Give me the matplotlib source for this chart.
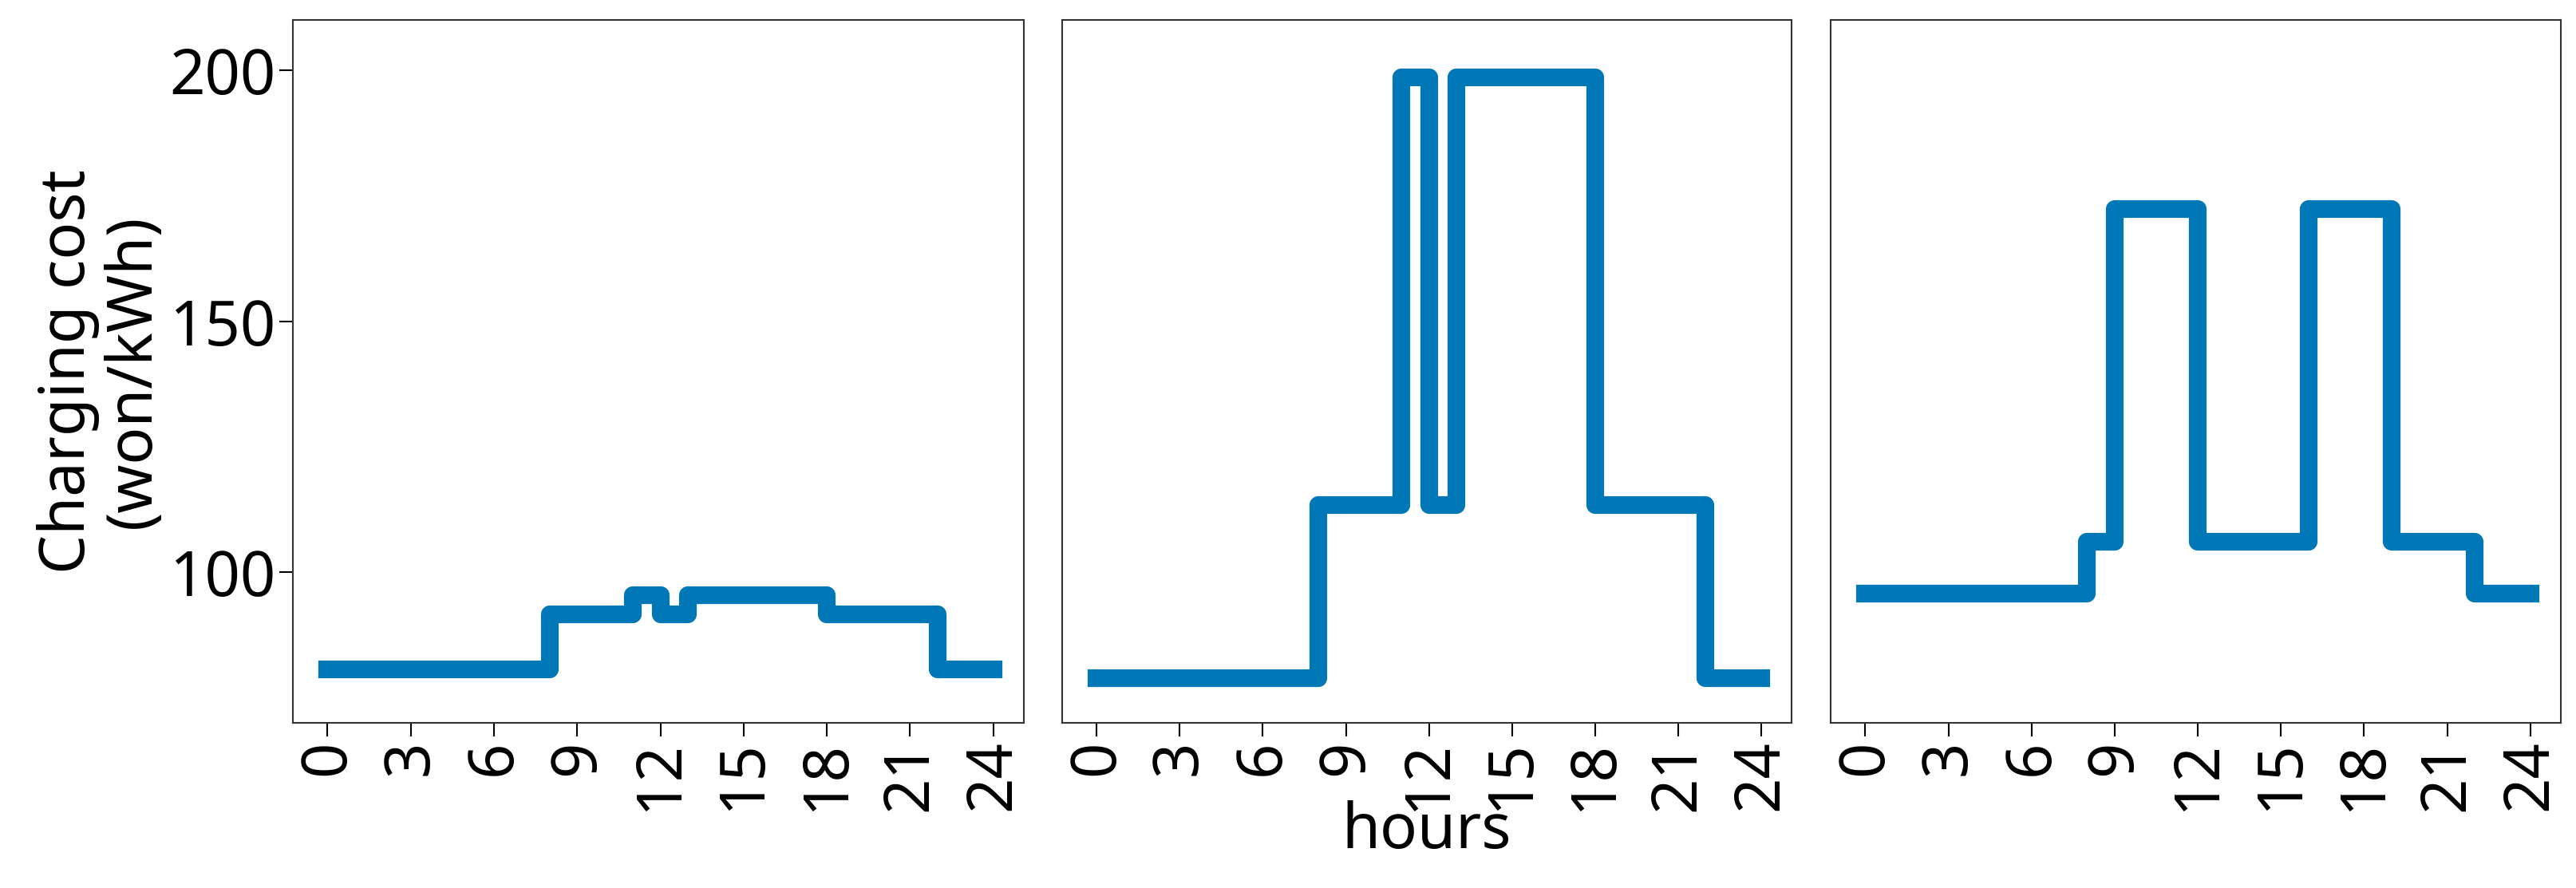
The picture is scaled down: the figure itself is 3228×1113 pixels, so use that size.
import matplotlib
matplotlib.use("Agg")
import matplotlib.pyplot as plt

plt.rcParams['font.family'] = ['Noto Sans', 'DejaVu Sans']

hours = list(range(25))
xticks = [0, 3, 6, 9, 12, 15, 18, 21, 24]
cost_a = [80.6]*8 + [91.6]*3 + [95.4] + [91.6] + [95.4]*5 + [91.6]*4 + [80.6]*2
cost_b = [78.9]*8 + [113.4]*3 + [198.5] + [113.4] + [198.5]*5 + [113.4]*4 + [78.9]*2
cost_c = [95.7]*8 + [106.0] + [172.4]*3 + [106.0]*4 + [172.4]*3 + [106.0]*3 + [95.7]*2
series = [cost_a, cost_b, cost_c]

W, H = 3228, 1113
fig = plt.figure(figsize=(W/100, H/100), dpi=100)
lefts = [367, 1331, 2294]
rights = [1283, 2245, 3209]
top, bottom = 25, 906
fs = 56
for i, vals in enumerate(series):
    ax = fig.add_axes([lefts[i]/W, 1-bottom/H, (rights[i]-lefts[i])/W, (bottom-top)/H])
    ax.plot(hours, vals + [vals[-1]], drawstyle='steps-post', color='#0077b6', lw=16,
            solid_joinstyle='round', solid_capstyle='projecting')
    ax.set_ylim(70, 210)
    ax.set_xlim(-1.25, 25.1)
    ax.set_xticks(xticks)
    ax.set_xticklabels([str(t) for t in xticks], rotation=90, fontsize=fs)
    ax.set_yticks([100, 150, 200])
    ax.tick_params(length=12, width=1.5, labelsize=fs)
    for s in ax.spines.values():
        s.set_color('#333333')
        s.set_linewidth(1.5)
    if i == 0:
        ax.set_ylabel('Charging cost\n(won/kWh)', fontsize=fs, linespacing=1.05)
    else:
        ax.set_yticklabels([])
        ax.tick_params(axis='y', length=0)
    if i == 1:
        ax.set_xlabel('hours', fontsize=fs, labelpad=-10)

fig.savefig('out.png', dpi=100, facecolor='white')
